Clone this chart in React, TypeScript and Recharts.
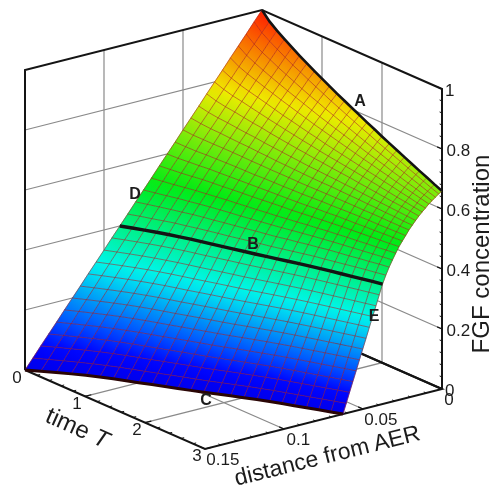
import { Scatter, ScatterChart, XAxis, YAxis } from "recharts";

// time levels of the mesh columns, 0 to 3 in eighths
const timeLevels = [
  0, 0.125, 0.25, 0.375, 0.5, 0.625, 0.75, 0.875, 1, 1.125, 1.25, 1.375, 1.5, 1.625, 1.75, 1.875,
  2, 2.125, 2.25, 2.375, 2.5, 2.625, 2.75, 2.875, 3,
];

// where the FGF front (z = 0) sits at each time level
const frontDistance = [
  0.15, 0.1448, 0.1398, 0.135, 0.1305, 0.1265, 0.1227, 0.1193, 0.116, 0.1124, 0.1089, 0.1055,
  0.1022, 0.0986, 0.0948, 0.0911, 0.0875, 0.084, 0.0807, 0.0776, 0.0746, 0.0716, 0.0686, 0.0656,
  0.0627,
];

// concentration at each mesh node, one row per fraction of the distance to the front (k/30)
const upperRows = [
  [1.0, 0.973, 0.953, 0.936, 0.919, 0.903, 0.888, 0.873, 0.859, 0.845, 0.831, 0.818, 0.805, 0.792, 0.779, 0.767, 0.754, 0.742, 0.73, 0.718, 0.706, 0.694, 0.683, 0.671, 0.66],
  [0.967, 0.942, 0.924, 0.908, 0.892, 0.877, 0.864, 0.85, 0.837, 0.824, 0.811, 0.799, 0.787, 0.775, 0.763, 0.752, 0.74, 0.729, 0.718, 0.707, 0.696, 0.685, 0.674, 0.663, 0.653],
  [0.933, 0.91, 0.893, 0.879, 0.864, 0.851, 0.838, 0.825, 0.813, 0.802, 0.79, 0.779, 0.768, 0.757, 0.746, 0.735, 0.724, 0.714, 0.704, 0.694, 0.684, 0.674, 0.664, 0.654, 0.645],
  [0.9, 0.879, 0.864, 0.85, 0.837, 0.825, 0.813, 0.802, 0.791, 0.78, 0.769, 0.759, 0.749, 0.739, 0.729, 0.719, 0.709, 0.7, 0.691, 0.681, 0.672, 0.663, 0.654, 0.645, 0.636],
  [0.867, 0.848, 0.834, 0.822, 0.81, 0.799, 0.788, 0.778, 0.768, 0.758, 0.748, 0.739, 0.73, 0.721, 0.712, 0.703, 0.694, 0.686, 0.677, 0.669, 0.66, 0.652, 0.644, 0.636, 0.628],
  [0.833, 0.816, 0.803, 0.792, 0.782, 0.772, 0.762, 0.752, 0.744, 0.735, 0.726, 0.718, 0.709, 0.701, 0.693, 0.685, 0.677, 0.669, 0.662, 0.654, 0.647, 0.639, 0.632, 0.624, 0.617],
  [0.8, 0.785, 0.773, 0.764, 0.754, 0.745, 0.736, 0.728, 0.72, 0.712, 0.704, 0.697, 0.689, 0.682, 0.675, 0.668, 0.661, 0.654, 0.647, 0.64, 0.633, 0.626, 0.62, 0.613, 0.607],
  [0.767, 0.753, 0.743, 0.735, 0.726, 0.718, 0.711, 0.703, 0.696, 0.689, 0.682, 0.676, 0.669, 0.663, 0.656, 0.65, 0.644, 0.637, 0.631, 0.625, 0.619, 0.613, 0.608, 0.602, 0.596],
  [0.733, 0.721, 0.712, 0.705, 0.697, 0.69, 0.684, 0.677, 0.671, 0.665, 0.659, 0.653, 0.647, 0.642, 0.636, 0.631, 0.625, 0.62, 0.614, 0.609, 0.604, 0.599, 0.594, 0.589, 0.584],
  [0.7, 0.69, 0.682, 0.676, 0.669, 0.663, 0.658, 0.652, 0.647, 0.641, 0.636, 0.631, 0.626, 0.621, 0.616, 0.612, 0.607, 0.602, 0.598, 0.593, 0.589, 0.584, 0.58, 0.575, 0.571],
  [0.667, 0.658, 0.652, 0.646, 0.641, 0.636, 0.631, 0.626, 0.622, 0.617, 0.613, 0.609, 0.604, 0.6, 0.596, 0.592, 0.588, 0.584, 0.58, 0.576, 0.573, 0.569, 0.565, 0.561, 0.558],
  [0.633, 0.626, 0.62, 0.616, 0.611, 0.607, 0.603, 0.599, 0.595, 0.592, 0.588, 0.584, 0.581, 0.577, 0.574, 0.571, 0.567, 0.564, 0.561, 0.558, 0.555, 0.551, 0.548, 0.545, 0.542],
  [0.6, 0.594, 0.59, 0.586, 0.583, 0.579, 0.576, 0.573, 0.57, 0.567, 0.564, 0.561, 0.558, 0.555, 0.552, 0.55, 0.547, 0.545, 0.542, 0.539, 0.537, 0.534, 0.532, 0.529, 0.527],
  [0.567, 0.563, 0.559, 0.556, 0.554, 0.551, 0.548, 0.546, 0.544, 0.541, 0.539, 0.537, 0.535, 0.532, 0.53, 0.528, 0.526, 0.524, 0.522, 0.52, 0.518, 0.516, 0.514, 0.512, 0.511],
  [0.533, 0.53, 0.527, 0.525, 0.523, 0.521, 0.519, 0.518, 0.516, 0.514, 0.512, 0.511, 0.509, 0.508, 0.506, 0.505, 0.503, 0.502, 0.5, 0.499, 0.497, 0.496, 0.494, 0.493, 0.492],
  [0.5, 0.498, 0.496, 0.495, 0.493, 0.492, 0.491, 0.49, 0.489, 0.487, 0.486, 0.485, 0.484, 0.483, 0.482, 0.481, 0.48, 0.479, 0.478, 0.477, 0.476, 0.475, 0.474, 0.473, 0.472],
  [0.467, 0.466, 0.465, 0.464, 0.463, 0.463, 0.462, 0.461, 0.461, 0.46, 0.459, 0.459, 0.458, 0.457, 0.457, 0.456, 0.456, 0.455, 0.455, 0.454, 0.453, 0.453, 0.452, 0.452, 0.451],
  [0.433, 0.433, 0.432, 0.432, 0.432, 0.431, 0.431, 0.431, 0.431, 0.43, 0.43, 0.43, 0.43, 0.429, 0.429, 0.429, 0.429, 0.429, 0.428, 0.428, 0.428, 0.428, 0.428, 0.427, 0.427],
];
// below line B the height does not change with time
const lowerRowHeights = [0.4, 0.367, 0.333, 0.3, 0.267, 0.233, 0.2, 0.167, 0.133, 0.1, 0.067, 0.033, 0];
const rowB = upperRows.length;

const heightTicks = [0, 0.2, 0.4, 0.6, 0.8, 1];
const heightMinorTicks = [0.04, 0.08, 0.12, 0.16, 0.24, 0.28, 0.32, 0.36, 0.44, 0.48, 0.52, 0.56, 0.64, 0.68, 0.72, 0.76, 0.84, 0.88, 0.92, 0.96];
const timeTicks = [0, 1, 2, 3];
const timeMinorTicks = [0.2, 0.4, 0.6, 0.8, 1.2, 1.4, 1.6, 1.8, 2.2, 2.4, 2.6, 2.8];
const distanceTicks = [0, 0.05, 0.1, 0.15];
const distanceMinorTicks = [0.01, 0.02, 0.03, 0.04, 0.06, 0.07, 0.08, 0.09, 0.11, 0.12, 0.13, 0.14];

const colorLevels = [0, 0.06, 0.13, 0.29, 0.52, 0.78, 1];
const colorValues = [
  [0, 0, 235],
  [0, 0, 255],
  [0, 80, 255],
  [0, 245, 240],
  [0, 235, 20],
  [240, 235, 0],
  [255, 25, 0],
];

const FONT = '"Liberation Sans", Arial, sans-serif';

// parallel projection of the Tecplot box, T and distance run along the floor
function project(t: number, d: number, z: number) {
  const along = (0.15 - d) / 0.15;
  return {
    x: 25 + 60 * t + 237 * along,
    y: 370 + 26.33 * t - 60 * along - 300 * z,
  };
}

function heightColor(z: number) {
  let i = 0;
  while (i < colorLevels.length - 2 && z > colorLevels[i + 1]) i++;
  const f = (z - colorLevels[i]) / (colorLevels[i + 1] - colorLevels[i]);
  const rgb = colorValues[i].map((c, n) => Math.round(c + (colorValues[i + 1][n] - c) * f));
  return `rgb(${rgb.join(",")})`;
}

const heightRows: number[][] = [
  ...upperRows,
  ...lowerRowHeights.map((z) => timeLevels.map(() => z)),
];

const surfaceNodes = heightRows.flatMap((row, r) =>
  row.map((z, k) => project(timeLevels[k], (r / (heightRows.length - 1)) * frontDistance[k], z)),
);

const columnCount = timeLevels.length;

const NoMark = () => null;

type Pt = { x: number; y: number };

function SurfaceMesh({ points }: { points: Pt[] }) {
  const at = (r: number, k: number) => points[r * columnCount + k];
  const cells = [];
  const defs = [];
  for (let r = 0; r < heightRows.length - 1; r++) {
    for (let k = 0; k < columnCount - 1; k++) {
      const a = at(r, k);
      const b = at(r, k + 1);
      const c = at(r + 1, k + 1);
      const e = at(r + 1, k);
      const id = `cell-${r}-${k}`;
      defs.push(
        <linearGradient
          key={id}
          id={id}
          gradientUnits="userSpaceOnUse"
          x1={(a.x + b.x) / 2}
          y1={(a.y + b.y) / 2}
          x2={(c.x + e.x) / 2}
          y2={(c.y + e.y) / 2}
        >
          <stop offset="0" stopColor={heightColor((heightRows[r][k] + heightRows[r][k + 1]) / 2)} />
          <stop offset="1" stopColor={heightColor((heightRows[r + 1][k] + heightRows[r + 1][k + 1]) / 2)} />
        </linearGradient>,
      );
      cells.push(
        <polygon
          key={id}
          points={`${a.x},${a.y} ${b.x},${b.y} ${c.x},${c.y} ${e.x},${e.y}`}
          fill={`url(#${id})`}
          stroke={`url(#${id})`}
          strokeWidth={0.6}
        />,
      );
    }
  }
  const lines = [];
  for (let r = 0; r < heightRows.length; r++) {
    const row = Array.from({ length: columnCount }, (_, k) => at(r, k));
    lines.push(<polyline key={`r${r}`} points={row.map((p) => `${p.x},${p.y}`).join(" ")} />);
  }
  for (let k = 0; k < columnCount; k++) {
    const col = heightRows.map((_, r) => at(r, k));
    lines.push(<polyline key={`c${k}`} points={col.map((p) => `${p.x},${p.y}`).join(" ")} />);
  }
  return (
    <g>
      <defs>{defs}</defs>
      {cells}
      <g fill="none" stroke="#a5181c" strokeOpacity={0.55} strokeWidth={1}>
        {lines}
      </g>
    </g>
  );
}

function polylineSeries(key: string, data: Pt[], stroke: string, strokeWidth: number) {
  return (
    <Scatter
      key={key}
      data={data}
      line={{ stroke, strokeWidth }}
      shape={NoMark}
      isAnimationActive={false}
    />
  );
}

function textSeries(
  key: string,
  pos: Pt,
  label: React.ReactNode,
  fontSize: number,
  extra: { angle?: number; bold?: boolean } = {},
) {
  const drawText = (p: any) => (
    <text
      x={p.cx}
      y={p.cy}
      textAnchor="middle"
      dominantBaseline="central"
      fontFamily={FONT}
      fontSize={fontSize}
      fontWeight={extra.bold ? "bold" : "normal"}
      fill="#1c1c1c"
      transform={extra.angle ? `rotate(${extra.angle} ${p.cx} ${p.cy})` : undefined}
    >
      {label}
    </text>
  );
  return <Scatter key={key} data={[pos]} shape={drawText} isAnimationActive={false} />;
}

const GRID = "#8a8a8a";
const AXIS = "#141414";

export default function App() {
  const grid = [
    // walls: height lines
    ...heightTicks.slice(1, 5).map((z) =>
      polylineSeries(
        `wall-z-${z}`,
        [project(0, 0.15, z), project(0, 0, z), project(3, 0, z)],
        GRID,
        1.2,
      ),
    ),
    // walls and floor: distance lines
    ...[0.05, 0.1].map((d) =>
      polylineSeries(
        `wall-d-${d}`,
        [project(0, d, 1), project(0, d, 0), project(3, d, 0)],
        GRID,
        1.2,
      ),
    ),
    // walls and floor: time lines
    ...[1, 2].map((t) =>
      polylineSeries(
        `wall-t-${t}`,
        [project(t, 0, 1), project(t, 0, 0), project(t, 0.15, 0)],
        GRID,
        1.2,
      ),
    ),
  ];

  const box = [
    polylineSeries(
      "box-top",
      [project(0, 0.15, 0), project(0, 0.15, 1), project(0, 0, 1), project(3, 0, 1), project(3, 0, 0)],
      AXIS,
      2,
    ),
    polylineSeries(
      "box-floor",
      [project(0, 0.15, 0), project(3, 0.15, 0), project(3, 0, 0), project(0, 0, 0)],
      AXIS,
      2,
    ),
  ];

  const ticks = [
    ...heightTicks.map((z) => polylineSeries(`zt-${z}`, [project(3, 0, z), project(2.92, 0, z)], AXIS, 1.2)),
    ...heightMinorTicks.map((z) => polylineSeries(`zm-${z}`, [project(3, 0, z), project(2.96, 0, z)], AXIS, 1)),
    ...timeTicks.map((t) => polylineSeries(`tt-${t}`, [project(t, 0.15, 0), project(t, 0.146, 0)], AXIS, 1.2)),
    ...timeMinorTicks.map((t) => polylineSeries(`tm-${t}`, [project(t, 0.15, 0), project(t, 0.148, 0)], AXIS, 1)),
    ...distanceTicks.map((d) => polylineSeries(`dt-${d}`, [project(3, d, 0), project(2.92, d, 0)], AXIS, 1.2)),
    ...distanceMinorTicks.map((d) => polylineSeries(`dm-${d}`, [project(3, d, 0), project(2.96, d, 0)], AXIS, 1)),
  ];

  const rowPoints = (r: number) =>
    heightRows[r].map((z, k) => project(timeLevels[k], (r / (heightRows.length - 1)) * frontDistance[k], z));

  const tickLabels = [
    ...heightTicks.map((z) => {
      const p = project(3, 0, z);
      return textSeries(`zl-${z}`, { x: p.x + 3.5 + String(z).length * 4.3, y: p.y + 2 }, String(z), 17);
    }),
    ...timeTicks.map((t) => {
      const p = project(t, 0.15, 0);
      return textSeries(`tl-${t}`, { x: p.x - 8, y: p.y + 7 }, String(t), 17);
    }),
    ...distanceTicks.map((d) => {
      const p = project(3, d, 0);
      return textSeries(`dl-${d}`, { x: p.x + 3.5 + String(d).length * 3.6, y: p.y + 11 }, String(d), 17);
    }),
  ];

  return (
    <div style={{ position: "absolute", left: 0, top: 0, filter: "blur(0.4px)" }}>
      <ScatterChart width={493} height={490} margin={{ top: 0, right: 0, bottom: 0, left: 0 }}>
        <XAxis type="number" dataKey="x" domain={[0, 493]} hide allowDataOverflow />
        <YAxis type="number" dataKey="y" domain={[0, 490]} reversed hide allowDataOverflow />
        {grid}
        {polylineSeries("back-floor", [project(0, 0, 0), project(3, 0, 0)], AXIS, 2)}
        {box}
        {ticks}
        <Scatter
          data={surfaceNodes}
          line={(props: any) => <SurfaceMesh points={props.points} />}
          shape={NoMark}
          isAnimationActive={false}
        />
        {polylineSeries("line-a", rowPoints(0), "#141414", 2.6)}
        {polylineSeries("line-b", rowPoints(rowB), "#141414", 3.4)}
        {polylineSeries("line-c", rowPoints(heightRows.length - 1), "#2a0505", 3)}
        {tickLabels}
        {textSeries("mark-a", { x: 360, y: 100 }, "A", 16, { bold: true })}
        {textSeries("mark-b", { x: 253, y: 243 }, "B", 16, { bold: true })}
        {textSeries("mark-c", { x: 206, y: 399 }, "C", 16, { bold: true })}
        {textSeries("mark-d", { x: 135, y: 193 }, "D", 16, { bold: true })}
        {textSeries("mark-e", { x: 374, y: 315 }, "E", 16, { bold: true })}
        {textSeries("title-z", { x: 480, y: 254 }, "FGF concentration", 24, { angle: -90 })}
        {textSeries(
          "title-t",
          { x: 78, y: 427 },
          <>
            time <tspan fontStyle="italic">T</tspan>
          </>,
          24,
          { angle: 24 },
        )}
        {textSeries("title-d", { x: 327, y: 455 }, "distance from AER", 23, { angle: -14 })}
      </ScatterChart>
    </div>
  );
}
